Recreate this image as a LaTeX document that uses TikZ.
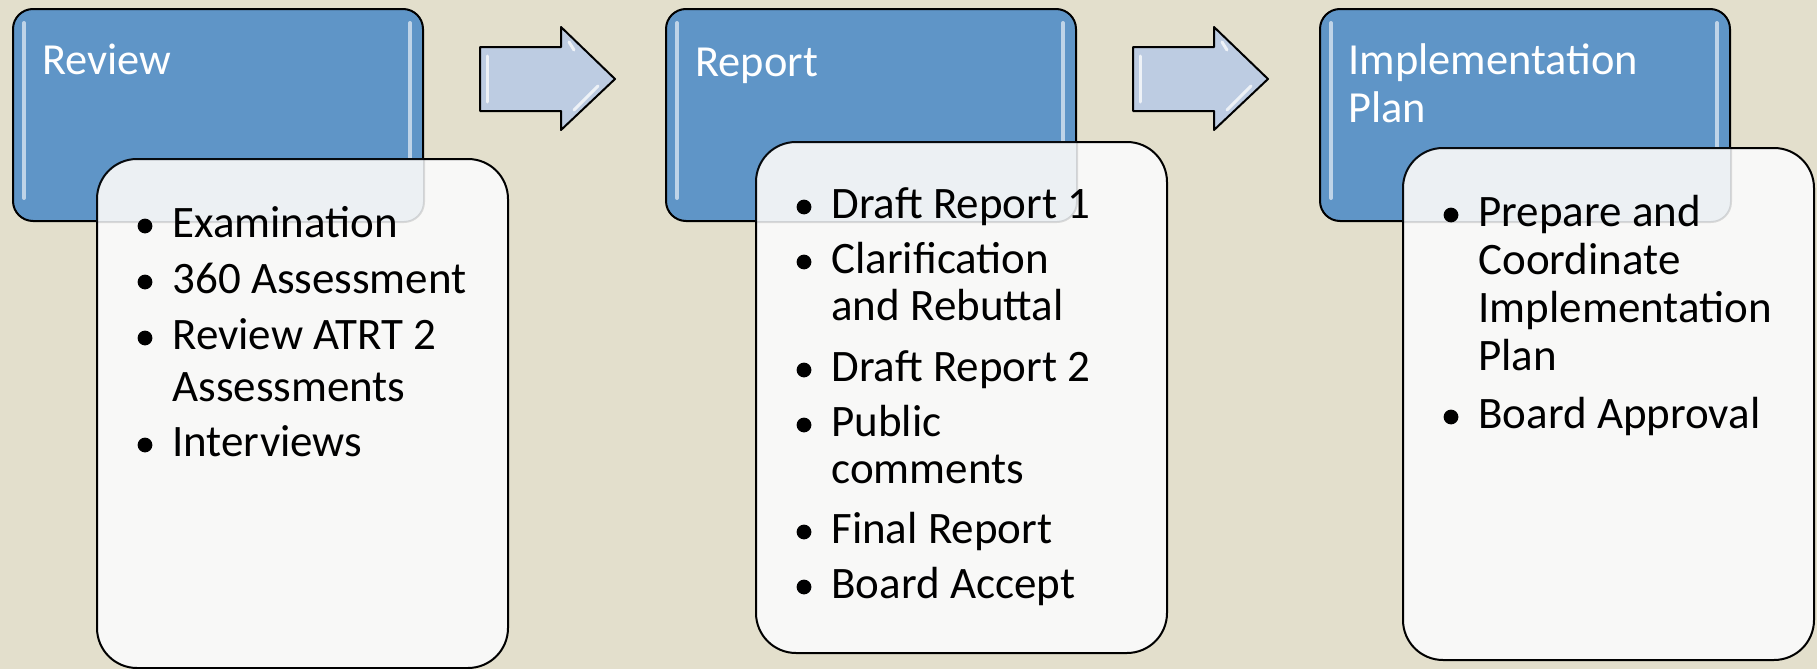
\documentclass[tikz,border=0pt]{standalone}
\usepackage{fontspec}
\setmainfont{Carlito}
\definecolor{bgbeige}{HTML}{E3DFCC}
\definecolor{boxblue}{HTML}{5F95C7}
\definecolor{boxwhite}{HTML}{F8F8F7}
\definecolor{arrowblue}{HTML}{BDCCE2}
\tikzset{
  bluebox/.style={draw=black, line width=1pt, fill=boxblue, rounded corners=10pt,
    minimum width=205pt, minimum height=106pt, anchor=north west, inner sep=0pt},
  whitebox/.style={draw=black, line width=1pt, fill=boxwhite,
    rounded corners=20pt, minimum width=205.5pt, anchor=north west, inner sep=0pt},
  tint/.style={fill=boxblue, fill opacity=0.08, draw=black, draw opacity=0.12, line width=1pt, rounded corners=10pt},
  gloss/.style={draw=white, draw opacity=0.6, line width=2pt, line cap=round},
  bevel/.style={draw=white, draw opacity=0.75, line width=1.5pt, line cap=round},
  blockarrow/.style={draw=black, line width=1pt, fill=arrowblue, line join=round},
  titletext/.style={anchor=base west, inner sep=0pt, text=white, font=\fontsize{22.2}{26}\selectfont},
  itemtext/.style={anchor=base west, inner sep=0pt, text=black, font=\fontsize{22.5}{26}\selectfont},
  dot/.style={fill=black}
}
\begin{document}
\begin{tikzpicture}[x=0.5pt, y=-0.5pt]
\path[use as bounding box, fill=bgbeige] (0,0) rectangle (1817,669);

% ---------- Blue header boxes ----------
\node[bluebox] (b1) at (12,8) {};
\node[bluebox] (b2) at (665,8) {};
\node[bluebox] (b3) at (1319,8) {};
\foreach \bx in {12,665,1319}{
  \draw[gloss] (\bx+12,23) -- (\bx+12,198);
  \draw[gloss] (\bx+398,23) -- (\bx+398,198);
}

% ---------- Titles ----------
\node[titletext] (t1) at (42,75) {Review};
\node[titletext] (t2) at (695,76) {Report};
\node[titletext] (t3a) at (1348,75) {Implementation};
\node[titletext] (t3b) at (1348,122) {Plan};

% ---------- Block arrows ----------
\foreach \ox/\nm in {0/a1,653/a2}{
  \begin{scope}[xshift=\ox*0.5pt]
  \coordinate (\nm-tip) at (615,79);
  \draw[blockarrow] (480,47) -- (561,47) -- (561,27) -- (\nm-tip) -- (561,130) -- (561,111) -- (480,111) -- cycle;
  \draw[bevel] (487,56) -- (487,102);
  \draw[bevel] (574,110) -- (598,86);
  \draw[bevel] (569,42) -- (574,50);
  \end{scope}
}

% ---------- White content boxes (slightly see-through over the blue) ----------
\node[whitebox, minimum height=254.5pt] (w1) at (96,158) {};
\node[whitebox, minimum height=255.5pt] (w2) at (755,141) {};
\node[whitebox, minimum height=256pt] (w3) at (1402,147) {};
\begin{scope}
  \clip[rounded corners=20pt] (w1.north west) rectangle (w1.south east);
  \path[tint] (b1.north west) rectangle (b1.south east);
\end{scope}
\begin{scope}
  \clip[rounded corners=20pt] (w2.north west) rectangle (w2.south east);
  \path[tint] (b2.north west) rectangle (b2.south east);
\end{scope}
\begin{scope}
  \clip[rounded corners=20pt] (w3.north west) rectangle (w3.south east);
  \path[tint] (b3.north west) rectangle (b3.south east);
\end{scope}

% ---------- Box 1 items ----------
\node[itemtext] (r1) at (172,237) {Examination};
\node[itemtext] (r2) at (172,293) {360 Assessment};
\node[itemtext] (r3) at (172,349) {Review ATRT 2};
\node[itemtext] (r3b) at (172,401) {Assessments};
\node[itemtext] (r4) at (172,456) {Interviews};

% ---------- Box 2 items ----------
\node[itemtext] (p1) at (831,218) {Draft Report 1};
\node[itemtext] (p2) at (831,273) {Clarification};
\node[itemtext] (p2b) at (831,320) {and Rebuttal};
\node[itemtext] (p3) at (831,381) {Draft Report 2};
\node[itemtext] (p4) at (831,436) {Public};
\node[itemtext] (p4b) at (831,483) {comments};
\node[itemtext] (p5) at (831,543) {Final Report};
\node[itemtext] (p6) at (831,598) {Board Accept};

% ---------- Box 3 items ----------
\node[itemtext] (i1) at (1478,226) {Prepare and};
\node[itemtext] (i1b) at (1478,274) {Coordinate};
\node[itemtext] (i1c) at (1478,322) {Implementation};
\node[itemtext] (i1d) at (1478,370) {Plan};
\node[itemtext] (i2) at (1478,428) {Board Approval};

% ---------- Bullets ----------
\foreach \n in {r1,r2,r3,r4,p1,p2,p3,p4,p5,p6,i1,i2}{
  \fill[dot] ([shift={(-27,-11)}]\n.base west) circle (3.7pt);
}
\end{tikzpicture}
\end{document}
